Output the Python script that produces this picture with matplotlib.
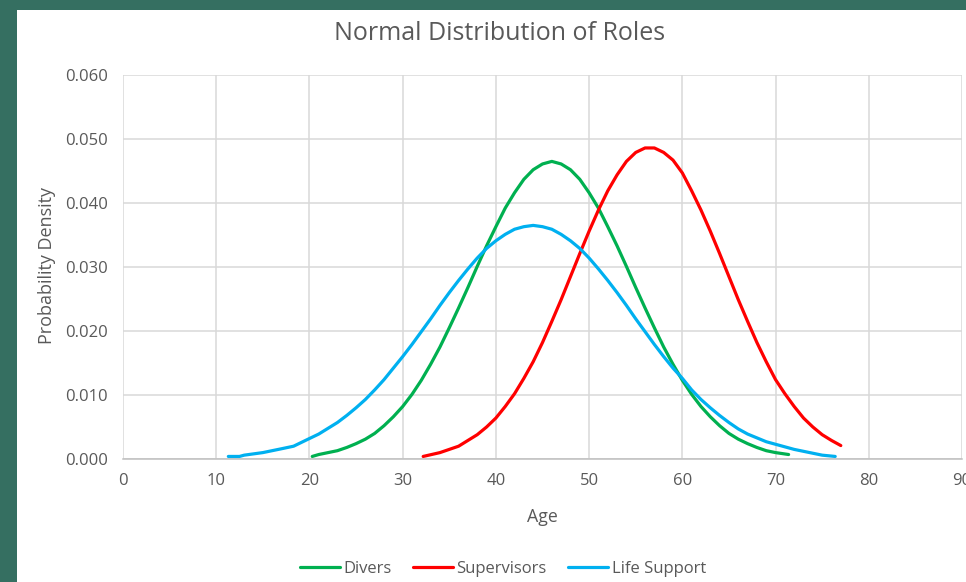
import matplotlib
matplotlib.use("Agg")
import matplotlib.pyplot as plt
from matplotlib.patches import Rectangle
from matplotlib.ticker import FormatStrFormatter, MultipleLocator

# ages and densities
divers_age = [20.3, 21, 22, 23, 24, 25, 26, 27, 28, 29, 30, 31, 32, 33, 34, 35, 36, 37,
              38, 39, 40, 41, 42, 43, 44, 45, 46, 47, 48, 49, 50, 51, 52, 53, 54, 55,
              56, 57, 58, 59, 60, 61, 62, 63, 64, 65, 66, 67, 68, 69, 70, 71.4]
divers_pdf = [0.0004, 0.0007, 0.0010, 0.0013, 0.0018, 0.0024, 0.0031, 0.0040, 0.0052,
              0.0066, 0.0082, 0.0101, 0.0123, 0.0148, 0.0175, 0.0205, 0.0236, 0.0268,
              0.0301, 0.0333, 0.0363, 0.0392, 0.0416, 0.0437, 0.0452, 0.0461, 0.0465,
              0.0461, 0.0452, 0.0437, 0.0416, 0.0392, 0.0363, 0.0333, 0.0301, 0.0268,
              0.0236, 0.0205, 0.0175, 0.0148, 0.0123, 0.0101, 0.0082, 0.0066, 0.0052,
              0.0040, 0.0031, 0.0024, 0.0018, 0.0013, 0.0010, 0.0007]

super_age = [32.2, 34, 35, 36, 37, 38, 39, 40, 41, 42, 43, 44, 45, 46, 47, 48, 49, 50,
             51, 52, 53, 54, 55, 56, 57, 58, 59, 60, 61, 62, 63, 64, 65, 66, 67, 68, 69,
             70, 71, 72, 73, 74, 75, 76, 77]
super_pdf = [0.0004, 0.0010, 0.0015, 0.0020, 0.0029, 0.0038, 0.0050, 0.0064, 0.0082,
             0.0102, 0.0126, 0.0152, 0.0182, 0.0215, 0.0249, 0.0285, 0.0321, 0.0356,
             0.0389, 0.0419, 0.0444, 0.0465, 0.0479, 0.0486, 0.0486, 0.0479, 0.0467,
             0.0447, 0.0419, 0.0389, 0.0356, 0.0321, 0.0285, 0.0249, 0.0215, 0.0182,
             0.0152, 0.0124, 0.0102, 0.0082, 0.0064, 0.0050, 0.0038, 0.0029, 0.0021]

life_age = [11.3, 12.5, 13, 15, 17, 18.3, 20, 21, 22, 23, 24, 25, 26, 27, 28, 29, 30, 31,
            32, 33, 34, 35, 36, 37, 38, 39, 40, 41, 42, 43, 44, 45, 46, 47, 48, 49, 50,
            51, 52, 53, 54, 55, 56, 57, 58, 59, 60, 61, 62, 63, 64, 65, 66, 67, 68, 69,
            70, 71, 72, 73, 74, 75, 76.4]
life_pdf = [0.0004, 0.0004, 0.0006, 0.0010, 0.0016, 0.0020, 0.0032, 0.0039, 0.0048,
            0.0057, 0.0068, 0.0080, 0.0093, 0.0108, 0.0124, 0.0142, 0.0160, 0.0179,
            0.0199, 0.0219, 0.0240, 0.0260, 0.0279, 0.0297, 0.0314, 0.0329, 0.0341,
            0.0351, 0.0359, 0.0363, 0.0365, 0.0363, 0.0359, 0.0351, 0.0341, 0.0329,
            0.0314, 0.0297, 0.0279, 0.0260, 0.0240, 0.0219, 0.0199, 0.0179, 0.0160,
            0.0142, 0.0126, 0.0108, 0.0093, 0.0080, 0.0068, 0.0057, 0.0047, 0.0039,
            0.0033, 0.0027, 0.0023, 0.0019, 0.0015, 0.0012, 0.0009, 0.0006, 0.0004]

series_names = ["Divers", "Supervisors", "Life Support"]
series_colors = ["#00B050", "#FF0000", "#00B0F0"]

plt.rcParams['font.family'] = ['Open Sans', 'DejaVu Sans']
txt_color = "#595959"

fig = plt.figure(figsize=(9.66, 5.82), dpi=100)
fig.patch.set_facecolor("#356f61")
# white chart area sitting on the textured green slide background
fig.patches.append(Rectangle((17 / 966, 0), 1, 1 - 10 / 582, transform=fig.transFigure,
                             facecolor="white", edgecolor="none", zorder=-5))

ax = fig.add_axes([123 / 966, 1 - 459 / 582, 839 / 966, 384 / 582])
ax.set_zorder(2)
ax.set_facecolor("white")

for xs, ys, name, col in zip([divers_age, super_age, life_age],
                             [divers_pdf, super_pdf, life_pdf],
                             series_names, series_colors):
    ax.plot(xs, ys, color=col, lw=2.3, label=name, solid_capstyle='round',
            solid_joinstyle='round', zorder=3)

ax.set_xlim(0, 90)
ax.set_ylim(0, 0.060)
ax.xaxis.set_major_locator(MultipleLocator(10))
ax.yaxis.set_major_locator(MultipleLocator(0.010))
ax.yaxis.set_major_formatter(FormatStrFormatter('%.3f'))
ax.grid(True, color="#d9d9d9", lw=1.1)
ax.set_axisbelow(True)
for s in ['top', 'right', 'left']:
    ax.spines[s].set_visible(False)
ax.spines['bottom'].set_color("#bfbfbf")
ax.spines['bottom'].set_linewidth(1.1)
ax.tick_params(length=0, labelsize=12, colors=txt_color)
ax.tick_params(axis='y', pad=11)
ax.tick_params(axis='x', pad=10)

fig.text(500 / 966, 1 - 33 / 582, "Normal Distribution of Roles", ha='center', va='center',
         fontsize=18, color=txt_color)
fig.text(47 / 966, 1 - 266 / 582, "Probability Density", rotation=90, ha='center',
         va='center', fontsize=13, color=txt_color)
fig.text(542.5 / 966, 1 - 517 / 582, "Age", ha='center', va='center', fontsize=12.8,
         color=txt_color)

leg = fig.legend(loc='center', bbox_to_anchor=(503 / 966, 1 - 569 / 582), ncol=3,
                 frameon=False, fontsize=12, handlelength=2.4, columnspacing=1.3,
                 handletextpad=0.2, borderaxespad=0)
for t in leg.get_texts():
    t.set_color(txt_color)
for h in leg.legend_handles:
    h.set_linewidth(2.3)

fig.savefig("out.png", dpi=100, facecolor=fig.get_facecolor())
